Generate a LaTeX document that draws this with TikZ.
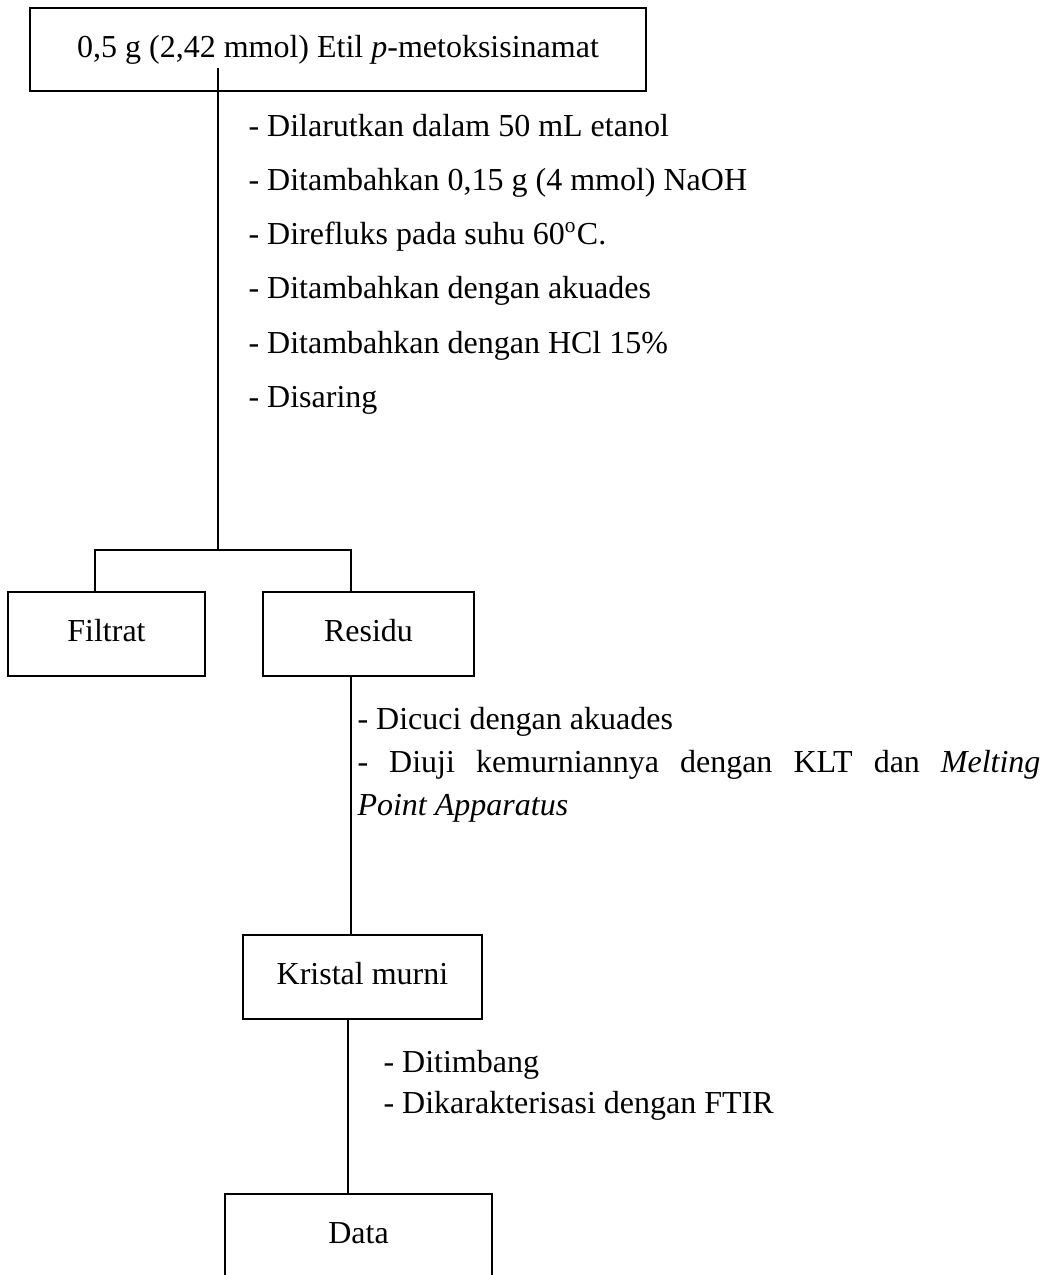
\documentclass[tikz,border=0pt]{standalone}
\usepackage{fontspec}
\setmainfont{Liberation Serif}
\begin{document}
\begin{tikzpicture}[x=0.375pt,y=-0.375pt,
  box/.style={draw,line width=0.8pt,inner sep=0pt,text height=8.25pt,text depth=2.6pt,font=\fontsize{12pt}{14pt}\selectfont},
  conn/.style={line width=0.4pt},
  steptext/.style={anchor=base west,inner sep=0pt,font=\fontsize{12pt}{14pt}\selectfont}]
\useasboundingbox (0,0) rectangle (1052,1275);
% boxes
\node[box,minimum width=231pt,minimum height=31.125pt] (top) at (338,49.5) {0,5 g (2,42 mmol) Etil \textit{p}-metoksisinamat};
\node[box,minimum width=73.875pt,minimum height=31.5pt] (filtrat) at (106.5,634) {Filtrat};
\node[box,minimum width=79.125pt,minimum height=31.5pt] (residu) at (368.5,634) {Residu};
\node[box,minimum width=89.625pt,minimum height=31.5pt] (kristal) at (362.5,977) {Kristal murni};
\node[box,minimum width=100.125pt,minimum height=31.5pt] (data) at (358.5,1236) {Data};
% connectors
\coordinate (s0) at (218,68);
\coordinate (jl) at (95,550);
\coordinate (jr) at (351,550);
\coordinate (km) at (348,0);
\draw[conn] (s0) -- (s0 |- jl);
\draw[conn] (filtrat.north -| jl) -- (jl) -- (jr) -- (residu.north -| jr);
\draw[conn] (residu.south -| jr) -- (kristal.north -| jr);
\draw[conn] (kristal.south -| km) -- (data.north -| km);
% step texts
\node[steptext] (t1) at (248,136) {- Dilarutkan dalam 50 mL etanol};
\node[steptext] (t2) at (248,190) {- Ditambahkan 0,15 g (4 mmol) NaOH};
\node[steptext] (t3) at (248,244.5) {- Direfluks pada suhu 60\textsuperscript{o}C.};
\node[steptext] (t4) at (248,298.5) {- Ditambahkan dengan akuades};
\node[steptext] (t5) at (248,353) {- Ditambahkan dengan HCl 15\%};
\node[steptext] (t6) at (248,407) {- Disaring};
\node[steptext] (u1) at (357,729) {- Dicuci dengan akuades};
\node[steptext] (u2) at (357,772) {\makebox[256.1pt][s]{- Diuji kemurniannya dengan KLT dan \textit{Melting}}};
\node[steptext] (u3) at (357,815) {\textit{Point Apparatus}};
\node[steptext] (v1) at (383,1072) {- Ditimbang};
\node[steptext] (v2) at (383,1113) {- Dikarakterisasi dengan FTIR};
\end{tikzpicture}
\end{document}
